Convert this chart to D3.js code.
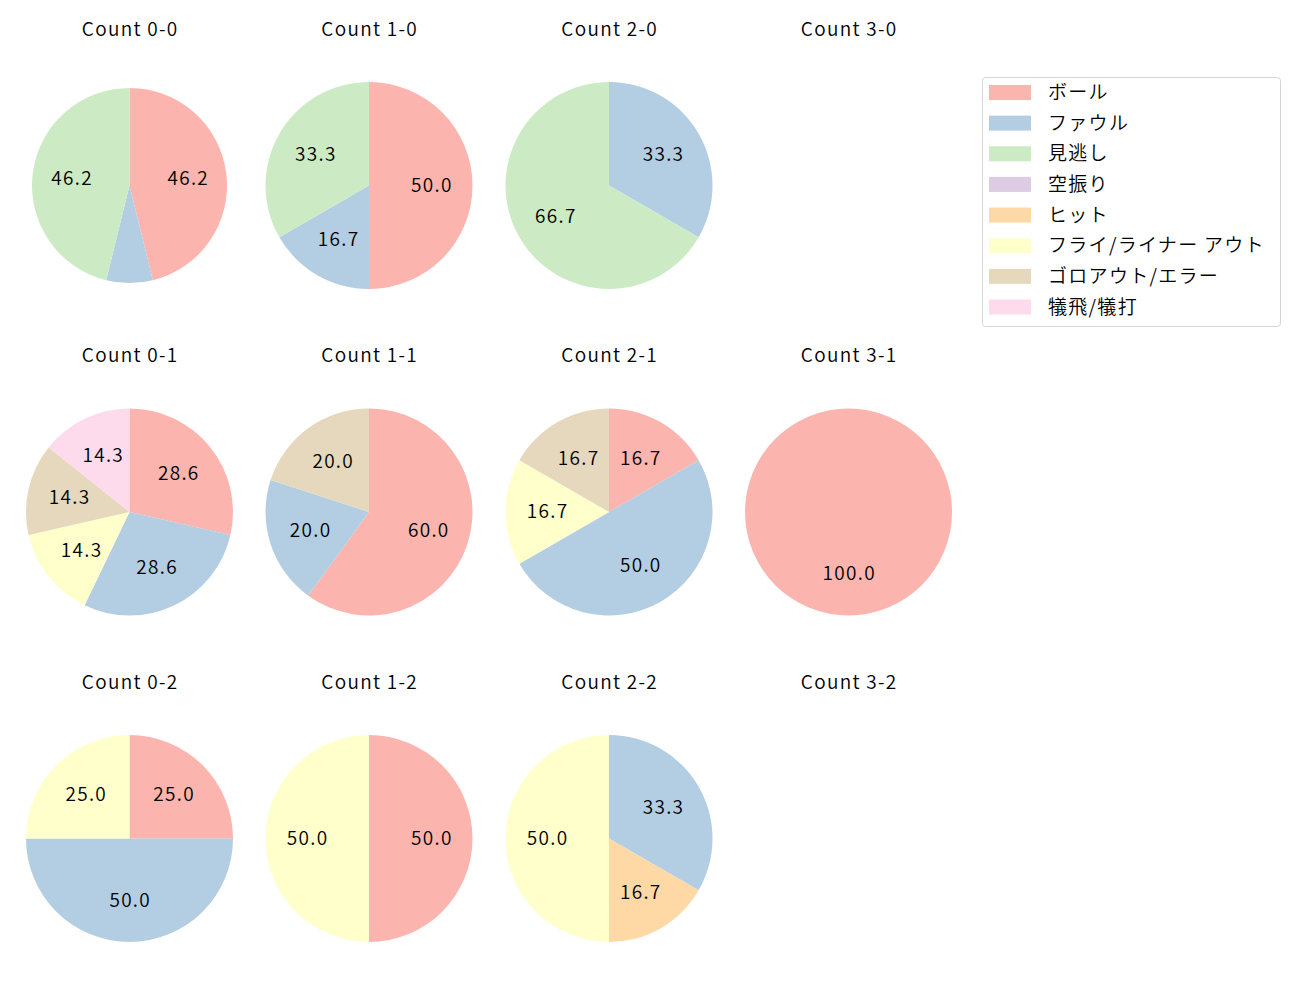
<!DOCTYPE html>
<html>
<head>
<meta charset="utf-8">
<script src="https://cdn.jsdelivr.net/npm/d3@7"></script>
<style>
  body { margin: 0; background: #fff; }
  text { font-family: "Noto Sans CJK JP", "DejaVu Sans", sans-serif; font-weight: 350; letter-spacing: 1.3px; fill: #000; }
</style>
</head>
<body>
<svg id="chart" width="1300" height="1000"></svg>
<script>
// result categories (legend order)
var categories = ["ボール", "ファウル", "見逃し", "空振り", "ヒット", "フライ/ライナー アウト", "ゴロアウト/エラー", "犠飛/犠打"];
var colors = ["#fbb4ae", "#b3cde3", "#ccebc5", "#decbe4", "#fed9a6", "#ffffcc", "#e5d8bd", "#fddaec"];

// counts per ball-strike situation, in category order
var titles = [
  "Count 0-0", "Count 1-0", "Count 2-0", "Count 3-0",
  "Count 0-1", "Count 1-1", "Count 2-1", "Count 3-1",
  "Count 0-2", "Count 1-2", "Count 2-2", "Count 3-2"
];
var counts = [
  [6, 1, 6, 0, 0, 0, 0, 0],
  [3, 1, 2, 0, 0, 0, 0, 0],
  [0, 1, 2, 0, 0, 0, 0, 0],
  [0, 0, 0, 0, 0, 0, 0, 0],
  [2, 2, 0, 0, 0, 1, 1, 1],
  [3, 1, 0, 0, 0, 0, 1, 0],
  [1, 3, 0, 0, 0, 1, 1, 0],
  [1, 0, 0, 0, 0, 0, 0, 0],
  [1, 2, 0, 0, 0, 1, 0, 0],
  [1, 0, 0, 0, 0, 1, 0, 0],
  [0, 2, 0, 0, 1, 3, 0, 0],
  [0, 0, 0, 0, 0, 0, 0, 0]
];

var svg = d3.select("#chart");
var FS = "19px";

var colX = d3.scaleOrdinal().domain([0, 1, 2, 3]).range([129.5, 369, 609, 848.5]);
var rowY = d3.scaleOrdinal().domain([0, 1, 2]).range([185.5, 512, 838.5]);

var pie = d3.pie().sort(null).value(function(d) { return d.v; })
  .startAngle(0).endAngle(2 * Math.PI);

titles.forEach(function(t, i) {
  var col = i % 4, row = Math.floor(i / 4);
  var cx = colX(col), cy = rowY(row);
  var R = i === 0 ? 97.5 : 103.5;
  var g = svg.append("g").attr("transform", "translate(" + cx + "," + cy + ")");

  g.append("text")
    .attr("x", 0.7).attr("y", -cy + (row * 326.5) + 35.5)
    .attr("text-anchor", "middle")
    .style("font-size", FS)
    .text(t);

  var data = counts[i].map(function(v, k) { return { v: v, k: k }; }).filter(function(d) { return d.v > 0; });
  var total = d3.sum(data, function(d) { return d.v; });
  if (!total) return;

  var arc = d3.arc().innerRadius(0).outerRadius(R);
  var labelArc = d3.arc().innerRadius(R * 0.6).outerRadius(R * 0.6);
  var arcs = pie(data);

  g.selectAll("path").data(arcs).enter().append("path")
    .attr("d", arc)
    .attr("fill", function(d) { return colors[d.data.k]; });

  g.selectAll("text.lbl").data(arcs.filter(function(d) { return d.data.v / total >= 0.1; }))
    .enter().append("text")
    .attr("class", "lbl")
    .attr("transform", function(d) {
      var c = labelArc.centroid(d);
      if (d.endAngle - d.startAngle >= 2 * Math.PI - 1e-6) c = [0, R * 0.6];
      return "translate(" + (c[0] + 0.7) + "," + c[1] + ")";
    })
    .attr("text-anchor", "middle")
    .attr("dy", "0.33em")
    .style("font-size", FS)
    .text(function(d) { return (d.data.v / total * 100).toFixed(1); });
});

// legend
var lg = svg.append("g").attr("transform", "translate(982,77)");
lg.append("rect").attr("x", 0.5).attr("y", 0.5).attr("width", 298).attr("height", 249)
  .attr("rx", 3).attr("fill", "#fff").attr("stroke", "#d5d5d5");
var ly = d3.scaleLinear().domain([0, categories.length - 1]).range([15.5, 230]);
categories.forEach(function(c, k) {
  lg.append("rect").attr("x", 7).attr("y", ly(k) - 7.5).attr("width", 42).attr("height", 15)
    .attr("fill", colors[k]);
  lg.append("text").attr("x", 66).attr("y", ly(k)).attr("dy", "0.35em")
    .style("font-size", FS).text(c);
});
</script>
</body>
</html>
